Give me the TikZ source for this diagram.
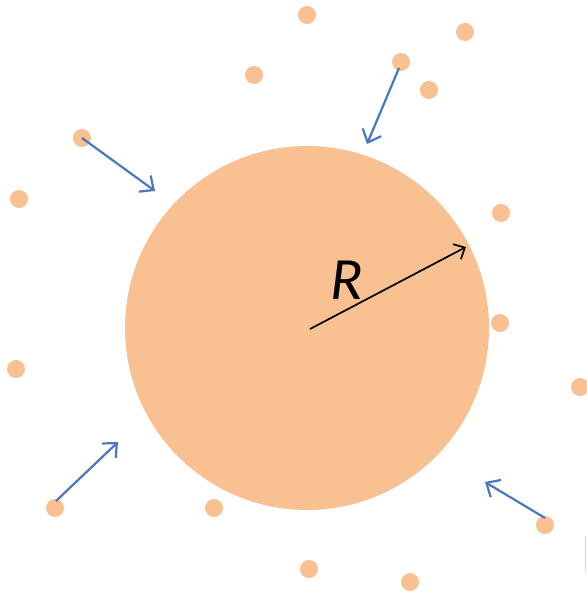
\documentclass[tikz,border=0pt]{standalone}
\usepackage{fontspec}
\setmainfont{Carlito}
\usetikzlibrary{arrows.meta}
\definecolor{dotor}{HTML}{F9C091}
\definecolor{arrblue}{HTML}{4A78BC}
\begin{document}
\begin{tikzpicture}[x=1pt,y=-1pt,
  dot/.style={circle,fill=dotor,inner sep=0pt,minimum size=18pt},
  inflow/.style={draw=arrblue,line width=2.2pt,-{Straight Barb[length=11pt,width=20pt,line width=2.2pt]}},
  radarrow/.style={draw=black,line width=1.7pt,-{Straight Barb[length=9pt,width=17pt,line width=1.7pt]}}]
\useasboundingbox[fill=white] (0,0) rectangle (586,593);
\node[circle,fill=dotor,inner sep=0pt,minimum size=364pt] (big) at (307,328) {};
% small dots
\node[dot] (d1) at (307,15) {};
\node[dot] (d2) at (465,32) {};
\node[dot] (d3) at (401,62) {};
\node[dot] (d4) at (254,75) {};
\node[dot] (d5) at (429,90) {};
\node[dot] (d6) at (82,138) {};
\node[dot] (d7) at (19,199) {};
\node[dot] (d8) at (501,213) {};
\node[dot] (d9) at (500,323) {};
\node[dot] (d10) at (16,369) {};
\node[dot] (d11) at (580,387) {};
\node[dot] (d12) at (55,508) {};
\node[dot] (d13) at (214,508) {};
\node[dot] (d14) at (545,525) {};
\node[dot] (d15) at (309,569) {};
\node[dot] (d16) at (410,582) {};
% arrow targets
\coordinate (t6) at (155,191);
\coordinate (t3) at (367,144);
\coordinate (t12) at (118,442);
\coordinate (t14) at (485,482);
\draw[inflow] (d6.center) -- (t6);
\draw[inflow] (d3.center) ++(-2,6) -- (t3);
\draw[inflow] (d12.center) ++(1,-7) -- (t12);
\draw[inflow] (d14.center) ++(0,-7) -- (t14);
% radius
\coordinate (rt) at (466,247);
\draw[radarrow] (big.center) ++(3,1) -- (rt);
\node[font=\itshape\fontsize{60}{60}\selectfont,inner sep=0pt] (R) at (347,280) {R};
% edge artifact
\draw[color=black!15,line width=0.8pt] (585.5,537) -- (585.5,572);
\end{tikzpicture}
\end{document}
